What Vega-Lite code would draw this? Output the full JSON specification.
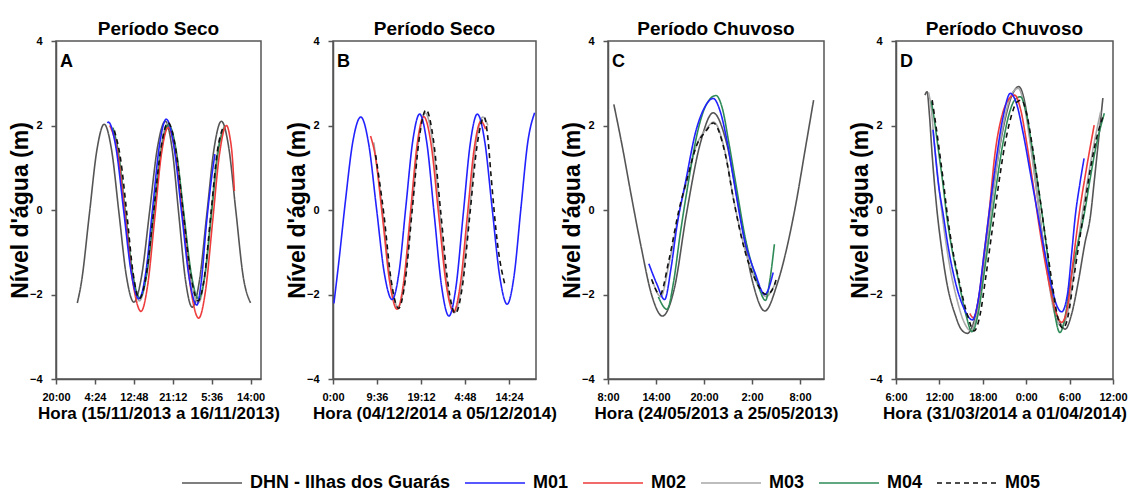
{
  "$schema": "https://vega.github.io/schema/vega-lite/v6.json",
  "background": "white",
  "padding": {"left": 8, "top": 19, "right": 2, "bottom": 2},
  "config": {
    "font": "Liberation Sans",
    "view": {"stroke": "#555555", "strokeWidth": 1.5},
    "axis": {
      "grid": false,
      "labelFont": "Liberation Sans",
      "labelFontSize": 11,
      "labelFontWeight": "bold",
      "labelColor": "#000000",
      "labelOverlap": false,
      "titleFont": "Liberation Sans",
      "titleFontWeight": "bold",
      "titleColor": "#000000",
      "domainColor": "#555555",
      "domainWidth": 1.5,
      "tickColor": "#555555",
      "tickWidth": 1.5,
      "tickSize": 5
    },
    "axisX": {"titleFontSize": 17, "labelPadding": 7, "titlePadding": 3, "labelFlush": false},
    "axisY": {"titleFontSize": 23, "labelPadding": 9, "titlePadding": -3},
    "title": {"font": "Liberation Sans", "fontSize": 19, "fontWeight": "bold", "color": "#000000", "offset": -4, "frame": "group"},
    "legend": {
      "orient": "none",
      "legendX": 125,
      "legendY": 432,
      "direction": "horizontal",
      "symbolType": "stroke",
      "symbolSize": 3600,
      "symbolStrokeWidth": 1.6,
      "clipHeight": 20,
      "labelFont": "Liberation Sans",
      "labelFontSize": 18,
      "labelFontWeight": "bold",
      "labelColor": "#000000",
      "labelOffset": 7,
      "labelLimit": 400,
      "columnPadding": 13
    }
  },
  "datasets": {
    "tide": [
      {"p":"A","s":"DHN","h":4.6,"v":-2.2},{"p":"A","s":"DHN","h":5.5,"v":-1.7},{"p":"A","s":"DHN","h":7.2,"v":-0.1},{"p":"A","s":"DHN","h":8.8,"v":1.4},{"p":"A","s":"DHN","h":10.4,"v":2.03},{"p":"A","s":"DHN","h":12.0,"v":1.42},{"p":"A","s":"DHN","h":13.6,"v":-0.08},{"p":"A","s":"DHN","h":15.2,"v":-1.57},{"p":"A","s":"DHN","h":16.8,"v":-2.18},{"p":"A","s":"DHN","h":18.5,"v":-1.55},{"p":"A","s":"DHN","h":20.2,"v":-0.04},{"p":"A","s":"DHN","h":21.9,"v":1.48},{"p":"A","s":"DHN","h":23.6,"v":2.1},{"p":"A","s":"DHN","h":25.05,"v":1.46},{"p":"A","s":"DHN","h":26.5,"v":-0.1},{"p":"A","s":"DHN","h":27.95,"v":-1.66},{"p":"A","s":"DHN","h":29.4,"v":-2.3},{"p":"A","s":"DHN","h":30.98,"v":-1.66},{"p":"A","s":"DHN","h":32.55,"v":-0.1},{"p":"A","s":"DHN","h":34.13,"v":1.46},{"p":"A","s":"DHN","h":35.7,"v":2.1},{"p":"A","s":"DHN","h":37.3,"v":1.47},{"p":"A","s":"DHN","h":38.85,"v":-0.05},{"p":"A","s":"DHN","h":40.4,"v":-1.57},{"p":"A","s":"DHN","h":42.0,"v":-2.2},
      {"p":"A","s":"M03","h":12.0,"v":1.95},{"p":"A","s":"M03","h":13.5,"v":1.35},{"p":"A","s":"M03","h":15.0,"v":-0.08},{"p":"A","s":"M03","h":16.5,"v":-1.5},{"p":"A","s":"M03","h":18.0,"v":-2.15},{"p":"A","s":"M03","h":19.53,"v":-1.53},{"p":"A","s":"M03","h":21.05,"v":-0.05},{"p":"A","s":"M03","h":22.58,"v":1.43},{"p":"A","s":"M03","h":24.1,"v":2.05},{"p":"A","s":"M03","h":25.75,"v":1.42},{"p":"A","s":"M03","h":27.4,"v":-0.08},{"p":"A","s":"M03","h":29.05,"v":-1.58},{"p":"A","s":"M03","h":30.7,"v":-2.2},{"p":"A","s":"M03","h":32.08,"v":-1.6},{"p":"A","s":"M03","h":33.45,"v":-0.1},{"p":"A","s":"M03","h":34.83,"v":1.36},{"p":"A","s":"M03","h":36.2,"v":1.95},
      {"p":"A","s":"M04","h":12.3,"v":1.95},{"p":"A","s":"M04","h":13.38,"v":1.41},{"p":"A","s":"M04","h":14.95,"v":-0.04},{"p":"A","s":"M04","h":16.53,"v":-1.49},{"p":"A","s":"M04","h":18.1,"v":-2.08},{"p":"A","s":"M04","h":19.65,"v":-1.48},{"p":"A","s":"M04","h":21.2,"v":-0.03},{"p":"A","s":"M04","h":22.75,"v":1.42},{"p":"A","s":"M04","h":24.3,"v":2.02},{"p":"A","s":"M04","h":25.93,"v":1.42},{"p":"A","s":"M04","h":27.55,"v":-0.04},{"p":"A","s":"M04","h":29.18,"v":-1.5},{"p":"A","s":"M04","h":30.8,"v":-2.1},{"p":"A","s":"M04","h":32.2,"v":-1.5},{"p":"A","s":"M04","h":33.6,"v":-0.06},{"p":"A","s":"M04","h":35.0,"v":1.38},{"p":"A","s":"M04","h":36.4,"v":1.98},
      {"p":"A","s":"M02","h":11.6,"v":2.0},{"p":"A","s":"M02","h":13.29,"v":1.36},{"p":"A","s":"M02","h":14.98,"v":-0.2},{"p":"A","s":"M02","h":16.66,"v":-1.76},{"p":"A","s":"M02","h":18.35,"v":-2.4},{"p":"A","s":"M02","h":19.81,"v":-1.76},{"p":"A","s":"M02","h":21.28,"v":-0.23},{"p":"A","s":"M02","h":22.74,"v":1.31},{"p":"A","s":"M02","h":24.2,"v":1.95},{"p":"A","s":"M02","h":25.85,"v":1.29},{"p":"A","s":"M02","h":27.5,"v":-0.31},{"p":"A","s":"M02","h":29.15,"v":-1.91},{"p":"A","s":"M02","h":30.8,"v":-2.56},{"p":"A","s":"M02","h":32.3,"v":-1.89},{"p":"A","s":"M02","h":33.8,"v":-0.28},{"p":"A","s":"M02","h":35.3,"v":1.33},{"p":"A","s":"M02","h":36.8,"v":2.0},{"p":"A","s":"M02","h":37.5,"v":1.75},{"p":"A","s":"M02","h":38.1,"v":1.2},{"p":"A","s":"M02","h":38.5,"v":0.45},
      {"p":"A","s":"M01","h":11.1,"v":2.06},{"p":"A","s":"M01","h":11.3,"v":2.08},{"p":"A","s":"M01","h":12.95,"v":1.47},{"p":"A","s":"M01","h":14.6,"v":-0.01},{"p":"A","s":"M01","h":16.25,"v":-1.49},{"p":"A","s":"M01","h":17.9,"v":-2.1},{"p":"A","s":"M01","h":19.38,"v":-1.48},{"p":"A","s":"M01","h":20.85,"v":0.03},{"p":"A","s":"M01","h":22.33,"v":1.53},{"p":"A","s":"M01","h":23.8,"v":2.15},{"p":"A","s":"M01","h":25.45,"v":1.51},{"p":"A","s":"M01","h":27.1,"v":-0.05},{"p":"A","s":"M01","h":28.75,"v":-1.61},{"p":"A","s":"M01","h":30.4,"v":-2.25},{"p":"A","s":"M01","h":31.3,"v":-1.75},{"p":"A","s":"M01","h":32.5,"v":-0.3},{"p":"A","s":"M01","h":33.4,"v":0.6},{"p":"A","s":"M01","h":34.3,"v":1.32},
      {"p":"A","s":"M05","h":12.6,"v":1.88},{"p":"A","s":"M05","h":13.95,"v":1.2},{"p":"A","s":"M05","h":15.3,"v":-0.1},{"p":"A","s":"M05","h":16.65,"v":-1.5},{"p":"A","s":"M05","h":18.0,"v":-2.1},{"p":"A","s":"M05","h":19.55,"v":-1.49},{"p":"A","s":"M05","h":21.1,"v":-0.01},{"p":"A","s":"M05","h":22.65,"v":1.46},{"p":"A","s":"M05","h":24.2,"v":2.07},{"p":"A","s":"M05","h":25.83,"v":1.45},{"p":"A","s":"M05","h":27.45,"v":-0.04},{"p":"A","s":"M05","h":29.08,"v":-1.53},{"p":"A","s":"M05","h":30.7,"v":-2.15},{"p":"A","s":"M05","h":32.08,"v":-1.55},{"p":"A","s":"M05","h":33.45,"v":-0.08},{"p":"A","s":"M05","h":34.83,"v":1.39},{"p":"A","s":"M05","h":36.2,"v":2.0},

      {"p":"B","s":"M03","h":8.9,"v":1.6},{"p":"B","s":"M03","h":10.8,"v":0.0},{"p":"B","s":"M03","h":12.5,"v":-1.6},{"p":"B","s":"M03","h":14.2,"v":-2.3},{"p":"B","s":"M03","h":15.7,"v":-1.65},{"p":"B","s":"M03","h":17.2,"v":0.0},{"p":"B","s":"M03","h":18.7,"v":1.65},{"p":"B","s":"M03","h":20.1,"v":2.3},{"p":"B","s":"M03","h":21.7,"v":1.65},{"p":"B","s":"M03","h":23.3,"v":-0.05},{"p":"B","s":"M03","h":24.9,"v":-1.75},{"p":"B","s":"M03","h":26.5,"v":-2.43},{"p":"B","s":"M03","h":28.1,"v":-1.75},{"p":"B","s":"M03","h":29.7,"v":-0.12},{"p":"B","s":"M03","h":31.2,"v":1.55},{"p":"B","s":"M03","h":32.7,"v":2.2},{"p":"B","s":"M03","h":33.8,"v":2.0},
      {"p":"B","s":"M02","h":8.2,"v":1.75},{"p":"B","s":"M02","h":9.2,"v":1.3},{"p":"B","s":"M02","h":10.8,"v":-0.17},{"p":"B","s":"M02","h":12.4,"v":-1.72},{"p":"B","s":"M02","h":14.0,"v":-2.35},{"p":"B","s":"M02","h":15.45,"v":-1.68},{"p":"B","s":"M02","h":16.9,"v":-0.07},{"p":"B","s":"M02","h":18.35,"v":1.54},{"p":"B","s":"M02","h":19.8,"v":2.21},{"p":"B","s":"M02","h":21.43,"v":1.54},{"p":"B","s":"M02","h":23.05,"v":-0.1},{"p":"B","s":"M02","h":24.68,"v":-1.74},{"p":"B","s":"M02","h":26.3,"v":-2.41},{"p":"B","s":"M02","h":27.8,"v":-1.75},{"p":"B","s":"M02","h":29.3,"v":-0.16},{"p":"B","s":"M02","h":30.8,"v":1.44},{"p":"B","s":"M02","h":32.3,"v":2.1},{"p":"B","s":"M02","h":33.3,"v":1.91},
      {"p":"B","s":"M01","h":0.2,"v":-2.21},{"p":"B","s":"M01","h":1.3,"v":-1.2},{"p":"B","s":"M01","h":2.7,"v":0.2},{"p":"B","s":"M01","h":4.3,"v":1.6},{"p":"B","s":"M01","h":6.07,"v":2.2},{"p":"B","s":"M01","h":7.78,"v":1.57},{"p":"B","s":"M01","h":9.49,"v":0.04},{"p":"B","s":"M01","h":11.19,"v":-1.49},{"p":"B","s":"M01","h":12.9,"v":-2.12},{"p":"B","s":"M01","h":14.4,"v":-1.48},{"p":"B","s":"M01","h":15.9,"v":0.08},{"p":"B","s":"M01","h":17.4,"v":1.63},{"p":"B","s":"M01","h":18.9,"v":2.27},{"p":"B","s":"M01","h":20.5,"v":1.57},{"p":"B","s":"M01","h":22.1,"v":-0.12},{"p":"B","s":"M01","h":23.7,"v":-1.81},{"p":"B","s":"M01","h":25.3,"v":-2.51},{"p":"B","s":"M01","h":26.85,"v":-1.81},{"p":"B","s":"M01","h":28.4,"v":-0.12},{"p":"B","s":"M01","h":29.95,"v":1.57},{"p":"B","s":"M01","h":31.5,"v":2.27},{"p":"B","s":"M01","h":33.13,"v":1.61},{"p":"B","s":"M01","h":34.75,"v":0.02},{"p":"B","s":"M01","h":36.38,"v":-1.57},{"p":"B","s":"M01","h":38.0,"v":-2.23},{"p":"B","s":"M01","h":39.5,"v":-1.57},{"p":"B","s":"M01","h":41.0,"v":0.03},{"p":"B","s":"M01","h":42.5,"v":1.6},{"p":"B","s":"M01","h":44.0,"v":2.3},
      {"p":"B","s":"M05","h":9.3,"v":1.3},{"p":"B","s":"M05","h":11.1,"v":-0.1},{"p":"B","s":"M05","h":12.7,"v":-1.67},{"p":"B","s":"M05","h":14.3,"v":-2.33},{"p":"B","s":"M05","h":15.8,"v":-1.64},{"p":"B","s":"M05","h":17.3,"v":0.02},{"p":"B","s":"M05","h":18.8,"v":1.68},{"p":"B","s":"M05","h":20.3,"v":2.37},{"p":"B","s":"M05","h":21.9,"v":1.67},{"p":"B","s":"M05","h":23.5,"v":-0.04},{"p":"B","s":"M05","h":25.1,"v":-1.75},{"p":"B","s":"M05","h":26.7,"v":-2.45},{"p":"B","s":"M05","h":28.28,"v":-1.77},{"p":"B","s":"M05","h":29.85,"v":-0.13},{"p":"B","s":"M05","h":31.43,"v":1.52},{"p":"B","s":"M05","h":33.0,"v":2.2},{"p":"B","s":"M05","h":33.8,"v":1.7},{"p":"B","s":"M05","h":34.5,"v":0.8},{"p":"B","s":"M05","h":35.9,"v":-0.8},{"p":"B","s":"M05","h":37.6,"v":-1.8},

      {"p":"C","s":"DHN","h":0.73,"v":2.5},{"p":"C","s":"DHN","h":1.8,"v":1.49},{"p":"C","s":"DHN","h":2.87,"v":0.38},{"p":"C","s":"DHN","h":4.16,"v":-0.89},{"p":"C","s":"DHN","h":5.44,"v":-2.0},{"p":"C","s":"DHN","h":6.8,"v":-2.51},{"p":"C","s":"DHN","h":8.3,"v":-1.85},{"p":"C","s":"DHN","h":9.8,"v":-0.1},{"p":"C","s":"DHN","h":11.5,"v":1.55},{"p":"C","s":"DHN","h":13.15,"v":2.3},{"p":"C","s":"DHN","h":14.8,"v":1.6},{"p":"C","s":"DHN","h":16.5,"v":-0.1},{"p":"C","s":"DHN","h":18.1,"v":-1.72},{"p":"C","s":"DHN","h":19.6,"v":-2.39},{"p":"C","s":"DHN","h":21.2,"v":-1.72},{"p":"C","s":"DHN","h":23.4,"v":0.06},{"p":"C","s":"DHN","h":24.7,"v":1.49},{"p":"C","s":"DHN","h":25.7,"v":2.6},
      {"p":"C","s":"M03","h":5.6,"v":-1.7},{"p":"C","s":"M03","h":6.6,"v":-2.05},{"p":"C","s":"M03","h":7.6,"v":-1.3},{"p":"C","s":"M03","h":8.9,"v":-0.05},{"p":"C","s":"M03","h":10.0,"v":0.8},{"p":"C","s":"M03","h":11.0,"v":1.5},{"p":"C","s":"M03","h":12.3,"v":1.92},{"p":"C","s":"M03","h":13.2,"v":2.08},{"p":"C","s":"M03","h":14.6,"v":1.4},{"p":"C","s":"M03","h":15.7,"v":0.25},{"p":"C","s":"M03","h":17.0,"v":-0.85},{"p":"C","s":"M03","h":18.3,"v":-1.6},{"p":"C","s":"M03","h":19.8,"v":-2.05},{"p":"C","s":"M03","h":20.6,"v":-1.85},{"p":"C","s":"M03","h":21.0,"v":-1.7},
      {"p":"C","s":"M04","h":6.3,"v":-2.06},{"p":"C","s":"M04","h":7.37,"v":-2.35},{"p":"C","s":"M04","h":8.2,"v":-1.7},{"p":"C","s":"M04","h":9.0,"v":-0.6},{"p":"C","s":"M04","h":10.0,"v":0.6},{"p":"C","s":"M04","h":11.2,"v":1.85},{"p":"C","s":"M04","h":12.3,"v":2.5},{"p":"C","s":"M04","h":13.5,"v":2.71},{"p":"C","s":"M04","h":14.3,"v":2.4},{"p":"C","s":"M04","h":15.1,"v":1.6},{"p":"C","s":"M04","h":16.0,"v":0.6},{"p":"C","s":"M04","h":17.2,"v":-0.7},{"p":"C","s":"M04","h":18.5,"v":-1.6},{"p":"C","s":"M04","h":19.7,"v":-2.14},{"p":"C","s":"M04","h":20.2,"v":-1.7},{"p":"C","s":"M04","h":20.8,"v":-0.81},
      {"p":"C","s":"M01","h":5.1,"v":-1.27},{"p":"C","s":"M01","h":6.1,"v":-1.75},{"p":"C","s":"M01","h":7.07,"v":-2.12},{"p":"C","s":"M01","h":7.9,"v":-1.35},{"p":"C","s":"M01","h":8.6,"v":-0.4},{"p":"C","s":"M01","h":9.73,"v":0.7},{"p":"C","s":"M01","h":11.0,"v":1.88},{"p":"C","s":"M01","h":12.0,"v":2.4},{"p":"C","s":"M01","h":13.15,"v":2.64},{"p":"C","s":"M01","h":14.0,"v":2.35},{"p":"C","s":"M01","h":14.86,"v":1.65},{"p":"C","s":"M01","h":15.72,"v":0.7},{"p":"C","s":"M01","h":17.0,"v":-0.65},{"p":"C","s":"M01","h":18.4,"v":-1.5},{"p":"C","s":"M01","h":19.6,"v":-2.0},{"p":"C","s":"M01","h":20.65,"v":-1.48},
      {"p":"C","s":"M05","h":5.45,"v":-1.64},{"p":"C","s":"M05","h":6.5,"v":-2.0},{"p":"C","s":"M05","h":7.6,"v":-1.2},{"p":"C","s":"M05","h":8.87,"v":0.0},{"p":"C","s":"M05","h":9.94,"v":0.77},{"p":"C","s":"M05","h":11.0,"v":1.49},{"p":"C","s":"M05","h":12.3,"v":1.88},{"p":"C","s":"M05","h":13.15,"v":2.06},{"p":"C","s":"M05","h":14.65,"v":1.33},{"p":"C","s":"M05","h":15.72,"v":0.22},{"p":"C","s":"M05","h":17.0,"v":-0.89},{"p":"C","s":"M05","h":18.3,"v":-1.6},{"p":"C","s":"M05","h":19.8,"v":-2.0},{"p":"C","s":"M05","h":20.5,"v":-1.9},{"p":"C","s":"M05","h":21.1,"v":-1.6},

      {"p":"D","s":"DHN","h":4.0,"v":2.72},{"p":"D","s":"DHN","h":4.3,"v":2.8},{"p":"D","s":"DHN","h":4.6,"v":2.3},{"p":"D","s":"DHN","h":5.0,"v":1.3},{"p":"D","s":"DHN","h":5.6,"v":0.1},{"p":"D","s":"DHN","h":6.3,"v":-0.91},{"p":"D","s":"DHN","h":7.0,"v":-1.7},{"p":"D","s":"DHN","h":8.2,"v":-2.49},{"p":"D","s":"DHN","h":9.0,"v":-2.82},{"p":"D","s":"DHN","h":9.86,"v":-2.92},{"p":"D","s":"DHN","h":10.8,"v":-2.62},{"p":"D","s":"DHN","h":11.8,"v":-1.7},{"p":"D","s":"DHN","h":12.8,"v":-0.4},{"p":"D","s":"DHN","h":13.8,"v":0.9},{"p":"D","s":"DHN","h":14.9,"v":2.0},{"p":"D","s":"DHN","h":16.0,"v":2.7},{"p":"D","s":"DHN","h":16.97,"v":2.92},{"p":"D","s":"DHN","h":17.8,"v":2.55},{"p":"D","s":"DHN","h":18.6,"v":1.6},{"p":"D","s":"DHN","h":19.5,"v":0.4},{"p":"D","s":"DHN","h":20.5,"v":-0.95},{"p":"D","s":"DHN","h":21.5,"v":-2.0},{"p":"D","s":"DHN","h":22.5,"v":-2.6},{"p":"D","s":"DHN","h":23.4,"v":-2.82},{"p":"D","s":"DHN","h":24.3,"v":-2.45},{"p":"D","s":"DHN","h":25.2,"v":-1.7},{"p":"D","s":"DHN","h":26.1,"v":-0.8},{"p":"D","s":"DHN","h":26.9,"v":-0.12},{"p":"D","s":"DHN","h":27.4,"v":0.67},{"p":"D","s":"DHN","h":28.0,"v":1.65},{"p":"D","s":"DHN","h":28.6,"v":2.65},
      {"p":"D","s":"M03","h":4.5,"v":2.78},{"p":"D","s":"M03","h":4.8,"v":2.5},{"p":"D","s":"M03","h":5.3,"v":1.6},{"p":"D","s":"M03","h":5.9,"v":0.6},{"p":"D","s":"M03","h":6.6,"v":-0.4},{"p":"D","s":"M03","h":7.4,"v":-1.3},{"p":"D","s":"M03","h":8.4,"v":-2.1},{"p":"D","s":"M03","h":9.4,"v":-2.65},{"p":"D","s":"M03","h":10.3,"v":-2.85},{"p":"D","s":"M03","h":11.1,"v":-2.55},{"p":"D","s":"M03","h":11.9,"v":-1.7},{"p":"D","s":"M03","h":12.7,"v":-0.6},{"p":"D","s":"M03","h":13.6,"v":0.6},{"p":"D","s":"M03","h":14.5,"v":1.7},{"p":"D","s":"M03","h":15.4,"v":2.45},{"p":"D","s":"M03","h":16.2,"v":2.8},{"p":"D","s":"M03","h":16.9,"v":2.88},{"p":"D","s":"M03","h":17.7,"v":2.5},{"p":"D","s":"M03","h":18.5,"v":1.65},{"p":"D","s":"M03","h":19.4,"v":0.5},{"p":"D","s":"M03","h":20.3,"v":-0.7},{"p":"D","s":"M03","h":21.2,"v":-1.8},{"p":"D","s":"M03","h":22.0,"v":-2.5},{"p":"D","s":"M03","h":22.9,"v":-2.75},{"p":"D","s":"M03","h":23.7,"v":-2.45},{"p":"D","s":"M03","h":24.5,"v":-1.6},{"p":"D","s":"M03","h":25.4,"v":-0.5},{"p":"D","s":"M03","h":26.3,"v":0.5},{"p":"D","s":"M03","h":27.3,"v":1.5},{"p":"D","s":"M03","h":28.3,"v":2.33},
      {"p":"D","s":"M04","h":4.88,"v":2.57},{"p":"D","s":"M04","h":5.2,"v":2.25},{"p":"D","s":"M04","h":5.83,"v":1.46},{"p":"D","s":"M04","h":6.45,"v":0.67},{"p":"D","s":"M04","h":7.0,"v":-0.12},{"p":"D","s":"M04","h":7.72,"v":-0.91},{"p":"D","s":"M04","h":8.68,"v":-1.7},{"p":"D","s":"M04","h":9.7,"v":-2.5},{"p":"D","s":"M04","h":10.5,"v":-2.88},{"p":"D","s":"M04","h":11.3,"v":-2.5},{"p":"D","s":"M04","h":12.1,"v":-1.6},{"p":"D","s":"M04","h":12.9,"v":-0.6},{"p":"D","s":"M04","h":13.8,"v":0.5},{"p":"D","s":"M04","h":14.7,"v":1.5},{"p":"D","s":"M04","h":15.6,"v":2.25},{"p":"D","s":"M04","h":16.4,"v":2.6},{"p":"D","s":"M04","h":17.2,"v":2.68},{"p":"D","s":"M04","h":18.0,"v":2.3},{"p":"D","s":"M04","h":18.8,"v":1.5},{"p":"D","s":"M04","h":19.7,"v":0.5},{"p":"D","s":"M04","h":20.6,"v":-0.6},{"p":"D","s":"M04","h":21.4,"v":-1.7},{"p":"D","s":"M04","h":22.0,"v":-2.5},{"p":"D","s":"M04","h":22.66,"v":-2.9},{"p":"D","s":"M04","h":23.3,"v":-2.6},{"p":"D","s":"M04","h":24.1,"v":-1.7},{"p":"D","s":"M04","h":25.0,"v":-0.9},{"p":"D","s":"M04","h":26.0,"v":-0.12},{"p":"D","s":"M04","h":26.8,"v":0.7},{"p":"D","s":"M04","h":27.6,"v":1.46},{"p":"D","s":"M04","h":28.8,"v":2.29},
      {"p":"D","s":"M02","h":10.2,"v":-2.45},{"p":"D","s":"M02","h":10.7,"v":-2.55},{"p":"D","s":"M02","h":11.5,"v":-2.0},{"p":"D","s":"M02","h":12.2,"v":-1.0},{"p":"D","s":"M02","h":12.9,"v":0.0},{"p":"D","s":"M02","h":13.66,"v":1.3},{"p":"D","s":"M02","h":14.6,"v":2.2},{"p":"D","s":"M02","h":15.5,"v":2.6},{"p":"D","s":"M02","h":16.4,"v":2.72},{"p":"D","s":"M02","h":17.2,"v":2.4},{"p":"D","s":"M02","h":18.1,"v":1.55},{"p":"D","s":"M02","h":19.0,"v":0.55},{"p":"D","s":"M02","h":19.9,"v":-0.5},{"p":"D","s":"M02","h":20.9,"v":-1.5},{"p":"D","s":"M02","h":21.9,"v":-2.3},{"p":"D","s":"M02","h":22.9,"v":-2.66},{"p":"D","s":"M02","h":23.7,"v":-2.3},{"p":"D","s":"M02","h":24.5,"v":-1.2},{"p":"D","s":"M02","h":25.3,"v":-0.12},{"p":"D","s":"M02","h":26.3,"v":0.95},{"p":"D","s":"M02","h":27.4,"v":2.01},
      {"p":"D","s":"M01","h":5.12,"v":1.9},{"p":"D","s":"M01","h":5.45,"v":1.3},{"p":"D","s":"M01","h":5.83,"v":0.67},{"p":"D","s":"M01","h":6.54,"v":-0.12},{"p":"D","s":"M01","h":7.25,"v":-0.91},{"p":"D","s":"M01","h":8.2,"v":-1.7},{"p":"D","s":"M01","h":9.4,"v":-2.33},{"p":"D","s":"M01","h":10.57,"v":-2.6},{"p":"D","s":"M01","h":11.3,"v":-2.2},{"p":"D","s":"M01","h":12.2,"v":-1.0},{"p":"D","s":"M01","h":13.0,"v":0.1},{"p":"D","s":"M01","h":13.9,"v":1.25},{"p":"D","s":"M01","h":14.8,"v":2.2},{"p":"D","s":"M01","h":15.8,"v":2.76},{"p":"D","s":"M01","h":16.6,"v":2.55},{"p":"D","s":"M01","h":17.6,"v":1.8},{"p":"D","s":"M01","h":18.6,"v":0.85},{"p":"D","s":"M01","h":19.5,"v":0.0},{"p":"D","s":"M01","h":20.5,"v":-0.95},{"p":"D","s":"M01","h":21.5,"v":-1.8},{"p":"D","s":"M01","h":22.2,"v":-2.25},{"p":"D","s":"M01","h":22.9,"v":-2.41},{"p":"D","s":"M01","h":23.7,"v":-2.0},{"p":"D","s":"M01","h":24.3,"v":-1.0},{"p":"D","s":"M01","h":24.8,"v":-0.12},{"p":"D","s":"M01","h":25.4,"v":0.6},{"p":"D","s":"M01","h":26.0,"v":1.22},
      {"p":"D","s":"M05","h":5.0,"v":2.6},{"p":"D","s":"M05","h":5.35,"v":2.2},{"p":"D","s":"M05","h":5.95,"v":1.46},{"p":"D","s":"M05","h":6.55,"v":0.67},{"p":"D","s":"M05","h":7.1,"v":-0.12},{"p":"D","s":"M05","h":7.8,"v":-0.91},{"p":"D","s":"M05","h":8.75,"v":-1.7},{"p":"D","s":"M05","h":9.9,"v":-2.5},{"p":"D","s":"M05","h":10.8,"v":-2.86},{"p":"D","s":"M05","h":11.6,"v":-2.5},{"p":"D","s":"M05","h":12.4,"v":-1.6},{"p":"D","s":"M05","h":13.2,"v":-0.6},{"p":"D","s":"M05","h":14.1,"v":0.5},{"p":"D","s":"M05","h":15.0,"v":1.5},{"p":"D","s":"M05","h":15.9,"v":2.2},{"p":"D","s":"M05","h":16.7,"v":2.55},{"p":"D","s":"M05","h":17.35,"v":2.6},{"p":"D","s":"M05","h":18.1,"v":2.25},{"p":"D","s":"M05","h":18.9,"v":1.45},{"p":"D","s":"M05","h":19.8,"v":0.4},{"p":"D","s":"M05","h":20.7,"v":-0.7},{"p":"D","s":"M05","h":21.6,"v":-1.75},{"p":"D","s":"M05","h":22.3,"v":-2.5},{"p":"D","s":"M05","h":23.1,"v":-2.8},{"p":"D","s":"M05","h":23.8,"v":-2.5},{"p":"D","s":"M05","h":24.5,"v":-1.7},{"p":"D","s":"M05","h":25.2,"v":-0.9},{"p":"D","s":"M05","h":25.9,"v":-0.12},{"p":"D","s":"M05","h":26.8,"v":0.9},{"p":"D","s":"M05","h":27.8,"v":1.75},{"p":"D","s":"M05","h":28.7,"v":2.25}
    ]
  },
  "bounds": "flush",
  "spacing": 72,
  "resolve": {"scale": {"x": "independent", "y": "independent", "color": "shared", "strokeDash": "shared"}},
  "hconcat": [
    {
      "width": 205, "height": 338,
      "title": "Período Seco",
      "layer": [
        {
          "data": {"name": "tide"},
          "transform": [{"filter": "datum.p === 'A'"}],
          "mark": {"type": "line", "interpolate": "monotone", "strokeWidth": 1.6},
          "encoding": {
            "x": {"field": "h", "type": "quantitative", "scale": {"domain": [0, 44.25], "nice": false, "zero": false},
                  "axis": {"values": [0, 8.4, 16.8, 25.2, 33.6, 42], "title": "Hora (15/11/2013 a 16/11/2013)",
                           "labelExpr": "utcFormat(utc(2000, 0, 1, 20, 0) + round(datum.value * 60) * 60000, '%-H:%M')"}},
            "y": {"field": "v", "type": "quantitative", "scale": {"domain": [-4, 4], "nice": false},
                  "axis": {"values": [-4, -2, 0, 2, 4], "title": "Nível d'água (m)"}},
            "color": {"field": "s", "type": "nominal", "title": null,
                      "scale": {"domain": ["DHN", "M01", "M02", "M03", "M04", "M05"], "range": ["#555555", "#2222ff", "#ee3b3b", "#a8a8a8", "#2e8b57", "#111111"]},
                      "legend": {"labelExpr": "datum.label === 'DHN' ? 'DHN - Ilhas dos Guarás' : datum.label"}},
            "strokeDash": {"field": "s", "type": "nominal", "title": null,
                           "scale": {"domain": ["DHN", "M01", "M02", "M03", "M04", "M05"], "range": [[1, 0], [1, 0], [1, 0], [1, 0], [1, 0], [5, 4]]},
                           "legend": {"labelExpr": "datum.label === 'DHN' ? 'DHN - Ilhas dos Guarás' : datum.label"}}
          }
        },
        {
          "data": {"values": [{"letter": "A"}]},
          "mark": {"type": "text", "align": "left", "baseline": "top", "dx": 4, "dy": 12, "fontSize": 18, "fontWeight": "bold", "color": "#000000"},
          "encoding": {"x": {"datum": 0, "type": "quantitative"}, "y": {"datum": 4, "type": "quantitative"}, "text": {"field": "letter"}}
        }
      ]
    },
    {
      "width": 203, "height": 338,
      "title": "Período Seco",
      "layer": [
        {
          "data": {"name": "tide"},
          "transform": [{"filter": "datum.p === 'B'"}],
          "mark": {"type": "line", "interpolate": "monotone", "strokeWidth": 1.6},
          "encoding": {
            "x": {"field": "h", "type": "quantitative", "scale": {"domain": [0, 44.3], "nice": false, "zero": false},
                  "axis": {"values": [0, 9.6, 19.2, 28.8, 38.4], "title": "Hora (04/12/2014 a 05/12/2014)",
                           "labelExpr": "utcFormat(utc(2000, 0, 1, 0, 0) + round(datum.value * 60) * 60000, '%-H:%M')"}},
            "y": {"field": "v", "type": "quantitative", "scale": {"domain": [-4, 4], "nice": false},
                  "axis": {"values": [-4, -2, 0, 2, 4], "title": "Nível d'água (m)"}},
            "color": {"field": "s", "type": "nominal", "title": null,
                      "scale": {"domain": ["DHN", "M01", "M02", "M03", "M04", "M05"], "range": ["#555555", "#2222ff", "#ee3b3b", "#a8a8a8", "#2e8b57", "#111111"]},
                      "legend": {"labelExpr": "datum.label === 'DHN' ? 'DHN - Ilhas dos Guarás' : datum.label"}},
            "strokeDash": {"field": "s", "type": "nominal", "title": null,
                           "scale": {"domain": ["DHN", "M01", "M02", "M03", "M04", "M05"], "range": [[1, 0], [1, 0], [1, 0], [1, 0], [1, 0], [5, 4]]},
                           "legend": {"labelExpr": "datum.label === 'DHN' ? 'DHN - Ilhas dos Guarás' : datum.label"}}
          }
        },
        {
          "data": {"values": [{"letter": "B"}]},
          "mark": {"type": "text", "align": "left", "baseline": "top", "dx": 4, "dy": 12, "fontSize": 18, "fontWeight": "bold", "color": "#000000"},
          "encoding": {"x": {"datum": 0, "type": "quantitative"}, "y": {"datum": 4, "type": "quantitative"}, "text": {"field": "letter"}}
        }
      ]
    },
    {
      "width": 216, "height": 338,
      "title": "Período Chuvoso",
      "layer": [
        {
          "data": {"name": "tide"},
          "transform": [{"filter": "datum.p === 'C'"}],
          "mark": {"type": "line", "interpolate": "monotone", "strokeWidth": 1.6},
          "encoding": {
            "x": {"field": "h", "type": "quantitative", "scale": {"domain": [0, 27], "nice": false, "zero": false},
                  "axis": {"values": [0, 6, 12, 18, 24], "title": "Hora (24/05/2013 a 25/05/2013)",
                           "labelExpr": "utcFormat(utc(2000, 0, 1, 8, 0) + round(datum.value * 60) * 60000, '%-H:%M')"}},
            "y": {"field": "v", "type": "quantitative", "scale": {"domain": [-4, 4], "nice": false},
                  "axis": {"values": [-4, -2, 0, 2, 4], "title": "Nível d'água (m)"}},
            "color": {"field": "s", "type": "nominal", "title": null,
                      "scale": {"domain": ["DHN", "M01", "M02", "M03", "M04", "M05"], "range": ["#555555", "#2222ff", "#ee3b3b", "#a8a8a8", "#2e8b57", "#111111"]},
                      "legend": {"labelExpr": "datum.label === 'DHN' ? 'DHN - Ilhas dos Guarás' : datum.label"}},
            "strokeDash": {"field": "s", "type": "nominal", "title": null,
                           "scale": {"domain": ["DHN", "M01", "M02", "M03", "M04", "M05"], "range": [[1, 0], [1, 0], [1, 0], [1, 0], [1, 0], [5, 4]]},
                           "legend": {"labelExpr": "datum.label === 'DHN' ? 'DHN - Ilhas dos Guarás' : datum.label"}}
          }
        },
        {
          "data": {"values": [{"letter": "C"}]},
          "mark": {"type": "text", "align": "left", "baseline": "top", "dx": 4, "dy": 12, "fontSize": 18, "fontWeight": "bold", "color": "#000000"},
          "encoding": {"x": {"datum": 0, "type": "quantitative"}, "y": {"datum": 4, "type": "quantitative"}, "text": {"field": "letter"}}
        }
      ]
    },
    {
      "width": 217, "height": 338,
      "title": "Período Chuvoso",
      "layer": [
        {
          "data": {"name": "tide"},
          "transform": [{"filter": "datum.p === 'D'"}],
          "mark": {"type": "line", "interpolate": "monotone", "strokeWidth": 1.6},
          "encoding": {
            "x": {"field": "h", "type": "quantitative", "scale": {"domain": [0, 30], "nice": false, "zero": false},
                  "axis": {"values": [0, 6, 12, 18, 24, 30], "title": "Hora (31/03/2014 a 01/04/2014)",
                           "labelExpr": "utcFormat(utc(2000, 0, 1, 6, 0) + round(datum.value * 60) * 60000, '%-H:%M')"}},
            "y": {"field": "v", "type": "quantitative", "scale": {"domain": [-4, 4], "nice": false},
                  "axis": {"values": [-4, -2, 0, 2, 4], "title": "Nível d'água (m)"}},
            "color": {"field": "s", "type": "nominal", "title": null,
                      "scale": {"domain": ["DHN", "M01", "M02", "M03", "M04", "M05"], "range": ["#555555", "#2222ff", "#ee3b3b", "#a8a8a8", "#2e8b57", "#111111"]},
                      "legend": {"labelExpr": "datum.label === 'DHN' ? 'DHN - Ilhas dos Guarás' : datum.label"}},
            "strokeDash": {"field": "s", "type": "nominal", "title": null,
                           "scale": {"domain": ["DHN", "M01", "M02", "M03", "M04", "M05"], "range": [[1, 0], [1, 0], [1, 0], [1, 0], [1, 0], [5, 4]]},
                           "legend": {"labelExpr": "datum.label === 'DHN' ? 'DHN - Ilhas dos Guarás' : datum.label"}}
          }
        },
        {
          "data": {"values": [{"letter": "D"}]},
          "mark": {"type": "text", "align": "left", "baseline": "top", "dx": 4, "dy": 12, "fontSize": 18, "fontWeight": "bold", "color": "#000000"},
          "encoding": {"x": {"datum": 0, "type": "quantitative"}, "y": {"datum": 4, "type": "quantitative"}, "text": {"field": "letter"}}
        }
      ]
    }
  ]
}
